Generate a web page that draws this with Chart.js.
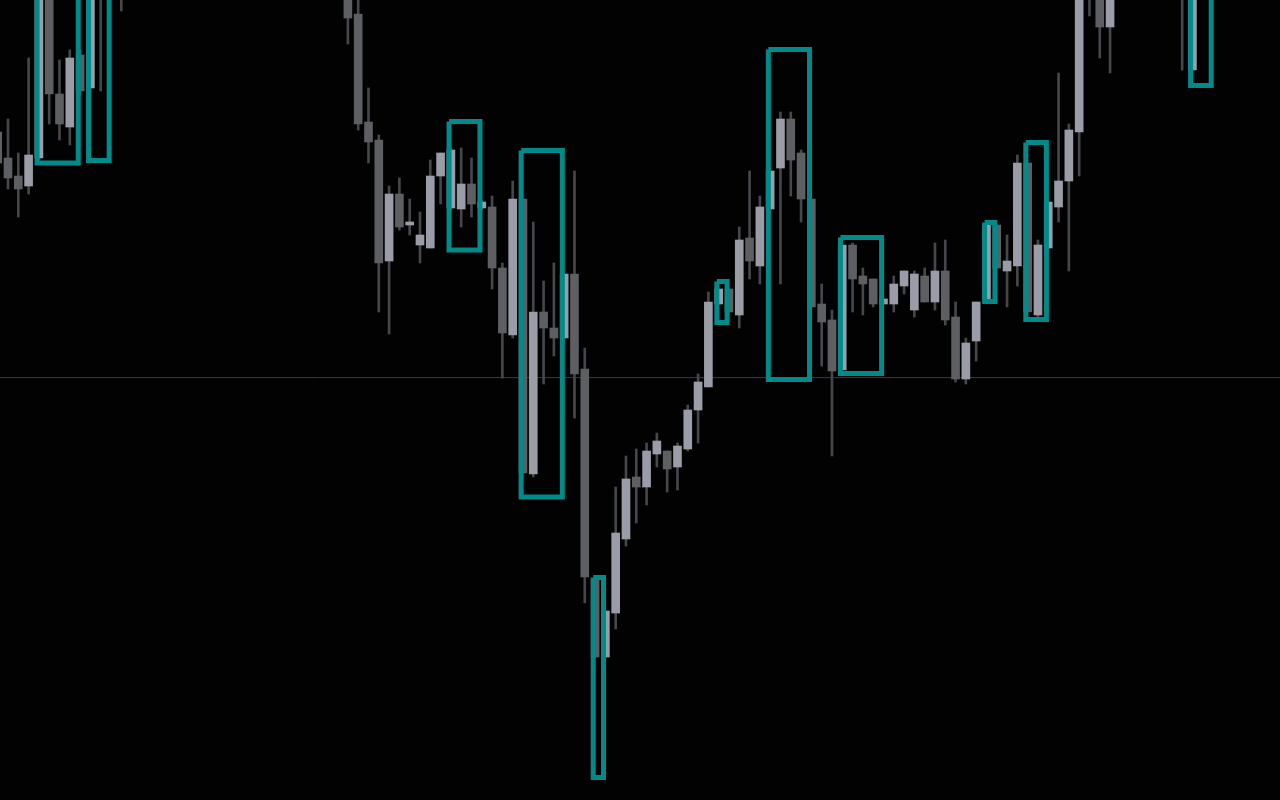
<!DOCTYPE html>
<html>
<head>
<meta charset="utf-8">
<script src="https://cdn.jsdelivr.net/npm/chart.js@4"></script>
<style>
  html, body { margin: 0; padding: 0; background: #020203; overflow: hidden; }
  canvas { display: block; }
</style>
</head>
<body>
<canvas id="chartCanvas" width="1280" height="800"></canvas>
<script>
// bar numbers start at -1 (half cut off at the left edge)
const firstBar = -1;

// OHLC per bar, null = bar lies outside the visible price range
const opens = [
  267,
  260.5, 256, 253.5, 260.5, 310, 276.5, 268.25, 286.25, 278, 315,
  318, 302.5, null, null, null, null, null, null, null, null,
  null, null, null, null, null, null, null, null, null, null,
  null, null, null, 305, 296.5, 269.5, 265, 234.75, 251.5, 243.75,
  238.75, 238, 256, 248, 247.75, 254, 248, 248.25, 233, 216.25,
  250.25, 181.5, 222, 218, 215.5, 231.5, 207.75, 155, 135.75, 146.75,
  165.25, 180.75, 178.25, 186.5, 187.25, 183.25, 187.75, 197.5, 203.25, 224,
  227.75, 221.25, 240.5, 233.5, 247.75, 258, 270.25, 261.75, 250.25, 224,
  220, 207.5, 238.75, 231, 230.25, 224, 224, 228.5, 222.5, 231,
  224.5, 232.25, 220.75, 205.25, 214.75, 225.25, 243.75, 232.25, 233.5, 259.25,
  221.25, 238, 248.25, 254.75, 267, 315, 305, 293.25, null, null,
  null, null, null, null, 305, 282.5, null
];
const highs = [
  268,
  270.25, 261.75, 285.5, 310, 312, 285, 287.5, 287.5, 312, 317,
  320, 318, null, null, null, null, null, null, null, null,
  null, null, null, null, null, null, null, null, null, null,
  null, null, null, 307.5, 302.5, 278, 266.25, 253.5, 255.5, 250.25,
  247, 260, 261.75, 263, 263, 260.5, 250, 251, 234.25, 254.75,
  250.25, 244.5, 229.75, 234.25, 231.5, 257.25, 213, 155, 147.25, 178.25,
  186, 187.75, 189.25, 191.75, 187.25, 189.25, 198.75, 206.5, 227, 227.75,
  227.75, 243.25, 257.25, 251, 257.25, 272, 272, 262.5, 250.25, 229,
  222.5, 238.75, 239.25, 233, 230.25, 225.25, 231, 232.25, 232.25, 233,
  239.25, 240, 224.5, 215.5, 224.5, 243.75, 243.75, 241.25, 261.25, 259.25,
  240, 249.5, 281.75, 269, 307.5, 317, 307.5, 307.5, null, null,
  null, null, null, null, 307.5, 307.5, null
];
const lows = [
  258.5,
  252.75, 245.75, 251.5, 260, 269, 265, 263.75, 276.25, 278, 277.25,
  302.5, 297.25, null, null, null, null, null, null, null, null,
  null, null, null, null, null, null, null, null, null, null,
  null, null, null, 289, 267.5, 259.25, 222, 216.5, 242.5, 241.25,
  234.25, 238, 249, 247.5, 243.25, 245.75, 247.5, 227.75, 205.5, 215.5,
  181.75, 180.75, 204, 211, 215.5, 195.5, 149.25, 135.75, 135.75, 142.75,
  163.5, 169.25, 173.75, 183.25, 177, 177.5, 187.25, 189.25, 203.25, 224,
  222, 218, 230.25, 229, 247.75, 229, 251, 244.5, 223.25, 208.5,
  186, 207.5, 222, 221.25, 223.25, 224, 222, 226.5, 220.75, 224.5,
  222.5, 218.75, 204.5, 204, 209.75, 225.25, 233, 223.25, 228.5, 222,
  220.75, 238, 244.5, 232.25, 256, 296, 285.5, 281.75, null, null,
  null, null, null, null, 282.5, 282.5, null
];
const closes = [
  259.25,
  255.5, 252.75, 261.25, 310, 276.5, 269, 285.5, 277.25, 310, 301.25,
  305, 315, null, null, null, null, null, null, null, null,
  null, null, null, null, null, null, null, null, null, null,
  null, null, null, 295.5, 269, 264.5, 234.25, 251.5, 243.25, 244.5,
  241.25, 256, 261.75, 262.5, 254, 249, 249.5, 233, 216.75, 250.25,
  181.75, 222, 218, 215.5, 231.5, 206.5, 155.75, 135.75, 147.25, 166.75,
  180.25, 178.25, 187.25, 189.75, 182.75, 188.5, 197.5, 204.5, 224.5, 227.75,
  222, 240, 234.75, 248.25, 257.25, 270.25, 260, 250.25, 223.25, 219.5,
  207.25, 238.75, 230.25, 229, 224, 225.25, 229, 232.25, 231.5, 224.5,
  232.25, 220, 205.25, 214.25, 224.5, 243.75, 233, 234.75, 259.25, 222,
  238.75, 249.5, 254.75, 267.5, 305, 302.5, 293.25, 305, null, null,
  null, null, null, null, 305, 305, null
];

// zones: first bar, last bar, upper and lower price
const boxStart = [3, 8, 43, 50, 57, 69, 74, 81, 95, 99, 115];
const boxEnd   = [7, 10, 46, 54, 58, 70, 78, 85, 96, 101, 117];
const boxHigh  = [312.5, 312.5, 269.6, 262.4, 155.6, 229.6, 287.6, 240.6, 244.4, 264.4, 312.5];
const boxLow   = [259.25, 259.9, 237.5, 175.75, 105.6, 219.4, 205.1, 206.6, 224.6, 220.1, 278.6];

// horizontal price level
const levelPrice = 205.6;

const UP = "#9a9ca7";
const DOWN = "#5e5f63";
const WICK = "#46474b";
const ZONE = "#008a8a";

const wicks = [];
const bodies = [];
const bodyColors = [];
opens.forEach((o, k) => {
  if (o === null) return;
  const x = firstBar + k;
  wicks.push({ x: x, y: [lows[k], highs[k]] });
  bodies.push({ x: x, y: [o, closes[k]] });
  bodyColors.push(closes[k] >= o ? UP : DOWN);
});

// zone edges sit a little left of the bar centres
const boxShift = -0.18;
const boxPath = [];
boxStart.forEach((s, k) => {
  const x0 = s + boxShift;
  const x1 = boxEnd[k] + boxShift;
  boxPath.push(
    { x: x0, y: boxHigh[k] },
    { x: x1, y: boxHigh[k] },
    { x: x1, y: boxLow[k] },
    { x: x0, y: boxLow[k] },
    { x: x0, y: boxHigh[k] },
    { x: x0, y: null }
  );
});

const ctx = document.getElementById("chartCanvas").getContext("2d");
new Chart(ctx, {
  type: "bar",
  data: {
    datasets: [
      {
        type: "line",
        data: boxPath,
        borderColor: ZONE,
        borderWidth: 5,
        borderJoinStyle: "miter",
        pointRadius: 0,
        fill: false,
        spanGaps: false,
        tension: 0,
        order: 0,
      },
      {
        data: bodies,
        backgroundColor: bodyColors,
        barThickness: 8,
        grouped: false,
        borderWidth: 0,
        order: 1,
      },
      {
        data: wicks,
        backgroundColor: WICK,
        barThickness: 2,
        grouped: false,
        borderWidth: 0,
        order: 2,
      },
      {
        type: "line",
        data: [{ x: -5, y: levelPrice }, { x: 130, y: levelPrice }],
        borderColor: "#393a46",
        borderWidth: 1,
        pointRadius: 0,
        fill: false,
        order: 3,
      },
    ],
  },
  options: {
    responsive: false,
    animation: false,
    events: [],
    layout: { padding: 0 },
    plugins: {
      legend: { display: false },
      tooltip: { enabled: false },
    },
    scales: {
      x: { type: "linear", display: false, offset: false, min: -0.777, max: 123.5 },
      y: { display: false, min: 100, max: 300 },
    },
  },
});
</script>
</body>
</html>
